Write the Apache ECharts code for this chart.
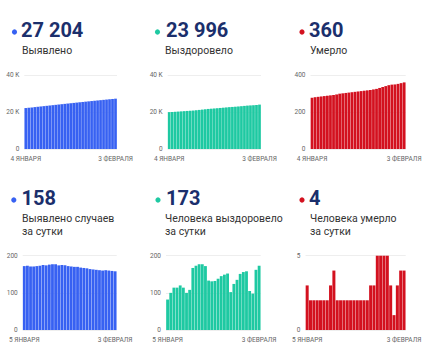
<!DOCTYPE html>
<html>
<head>
<meta charset="utf-8">
<script src="https://cdn.jsdelivr.net/npm/echarts@6/dist/echarts.min.js"></script>
<style>
html,body{margin:0;padding:0;background:#fff;}
#c{width:430px;height:355px;}
</style>
</head>
<body>
<div id="c"></div>
<script>
// ---- categories ----
const datesTotal = ['4 ЯНВАРЯ','5 ЯНВАРЯ','6 ЯНВАРЯ','7 ЯНВАРЯ','8 ЯНВАРЯ','9 ЯНВАРЯ','10 ЯНВАРЯ','11 ЯНВАРЯ','12 ЯНВАРЯ','13 ЯНВАРЯ','14 ЯНВАРЯ','15 ЯНВАРЯ','16 ЯНВАРЯ','17 ЯНВАРЯ','18 ЯНВАРЯ','19 ЯНВАРЯ','20 ЯНВАРЯ','21 ЯНВАРЯ','22 ЯНВАРЯ','23 ЯНВАРЯ','24 ЯНВАРЯ','25 ЯНВАРЯ','26 ЯНВАРЯ','27 ЯНВАРЯ','28 ЯНВАРЯ','29 ЯНВАРЯ','30 ЯНВАРЯ','31 ЯНВАРЯ','1 ФЕВРАЛЯ','2 ФЕВРАЛЯ','3 ФЕВРАЛЯ'];
const datesDaily = ['5 ЯНВАРЯ','6 ЯНВАРЯ','7 ЯНВАРЯ','8 ЯНВАРЯ','9 ЯНВАРЯ','10 ЯНВАРЯ','11 ЯНВАРЯ','12 ЯНВАРЯ','13 ЯНВАРЯ','14 ЯНВАРЯ','15 ЯНВАРЯ','16 ЯНВАРЯ','17 ЯНВАРЯ','18 ЯНВАРЯ','19 ЯНВАРЯ','20 ЯНВАРЯ','21 ЯНВАРЯ','22 ЯНВАРЯ','23 ЯНВАРЯ','24 ЯНВАРЯ','25 ЯНВАРЯ','26 ЯНВАРЯ','27 ЯНВАРЯ','28 ЯНВАРЯ','29 ЯНВАРЯ','30 ЯНВАРЯ','31 ЯНВАРЯ','1 ФЕВРАЛЯ','2 ФЕВРАЛЯ','3 ФЕВРАЛЯ'];

// ---- series values ----
const detectedTotal = [22138,22310,22483,22654,22825,22997,23170,23345,23519,23695,23872,24049,24223,24398,24572,24744,24915,25085,25255,25423,25590,25756,25920,26083,26245,26406,26566,26727,26887,27046,27204];
const recoveredTotal = [19934,20016,20116,20230,20344,20464,20578,20678,20786,20953,21126,21303,21480,21652,21785,21916,22048,22186,22331,22480,22632,22734,22858,22993,23144,23300,23458,23563,23661,23823,23996];
const deathsTotal = [277,280,282,284,286,288,290,292,295,299,301,303,305,307,309,311,313,315,317,319,322,325,330,335,340,345,348,349,352,356,360];
const detectedDaily = [172,173,171,171,172,173,175,174,176,177,177,174,175,174,172,171,170,170,168,167,166,164,163,162,161,160,161,160,159,158];
const recoveredDaily = [82,100,114,114,120,114,100,108,167,173,177,177,172,133,131,132,138,145,149,152,102,124,135,151,156,158,105,98,162,173];
const deathsDaily = [3,2,2,2,2,2,2,3,4,2,2,2,2,2,2,2,2,2,2,3,3,5,5,5,5,3,1,3,4,4];

// ---- tick labels ----
const ticksCases = ['0','20 K','40 K'];
const ticksDeathsTotal = ['0','200','400'];
const ticksDaily = ['0','100','200'];
const ticksDeathsDaily = ['0','5'];

// ---- header texts ----
const headerValues = ['27 204','23 996','360','158','173','4'];
const headerLabels = [['Выявлено'],['Выздоровело'],['Умерло'],['Выявлено случаев','за сутки'],['Человека выздоровело','за сутки'],['Человека умерло','за сутки']];

const BLUE = '#3761f2', TEAL = '#1ec9a2', RED = '#d3111f', NAVY = '#1b2f6c';

const panels = [
  {data: detectedTotal, cats: datesTotal, color: BLUE, max: 40000, interval: 20000, ticks: ticksCases, grid: {left: 24.3, top: 75, width: 92.7, height: 74}},
  {data: recoveredTotal, cats: datesTotal, color: TEAL, max: 40000, interval: 20000, ticks: ticksCases, grid: {left: 167.7, top: 75, width: 93.3, height: 74}},
  {data: deathsTotal, cats: datesTotal, color: RED, max: 400, interval: 200, ticks: ticksDeathsTotal, grid: {left: 310.5, top: 75, width: 95.2, height: 74}},
  {data: detectedDaily, cats: datesDaily, color: BLUE, max: 200, interval: 100, ticks: ticksDaily, grid: {left: 22.7, top: 255.7, width: 94, height: 74.3}},
  {data: recoveredDaily, cats: datesDaily, color: TEAL, max: 200, interval: 100, ticks: ticksDaily, grid: {left: 166, top: 255.7, width: 94.7, height: 74.3}},
  {data: deathsDaily, cats: datesDaily, color: RED, max: 5, interval: 5, ticks: ticksDeathsDaily, grid: {left: 305.5, top: 255.7, width: 100.2, height: 74.3}}
];

const headerPos = [
  {dot: [14.5, 32], num: [21, 30], lab: [22, 50]},
  {dot: [157.5, 32], num: [166, 30], lab: [165, 50]},
  {dot: [302, 32], num: [309, 30], lab: [310, 50]},
  {dot: [13.8, 200], num: [21.5, 198], lab: [22, 218]},
  {dot: [158, 200], num: [166, 198], lab: [165, 218]},
  {dot: [302, 200], num: [309, 198], lab: [310, 218]}
];

const FONT = 'Roboto';
const grids = [], xAxes = [], yAxes = [], series = [], graphics = [];

panels.forEach((p, i) => {
  grids.push(Object.assign({containLabel: false}, p.grid));
  const n = p.cats.length;
  xAxes.push({
    type: 'category', gridIndex: i, data: p.cats,
    axisLine: {show: false}, axisTick: {show: false},
    axisLabel: {
      interval: (idx) => idx === 0 || idx === n - 1,
      fontSize: 6.5, color: '#666', margin: 6, fontFamily: FONT, hideOverlap: false
    }
  });
  yAxes.push({
    type: 'value', gridIndex: i, min: 0, max: p.max, interval: p.interval,
    axisLine: {show: false}, axisTick: {show: false},
    splitLine: {lineStyle: {color: '#eeeeee', width: 1}},
    axisLabel: {
      fontSize: 6.5, color: '#666', margin: 5, fontFamily: FONT,
      formatter: (v) => p.ticks[Math.round(v / p.interval)]
    }
  });
  series.push({
    type: 'bar', xAxisIndex: i, yAxisIndex: i, data: p.data,
    barCategoryGap: '10%', itemStyle: {color: p.color}, animation: false
  });

  const h = headerPos[i];
  graphics.push({type: 'circle', shape: {cx: h.dot[0], cy: h.dot[1], r: 2.6}, style: {fill: p.color}});
  graphics.push({type: 'text', x: h.num[0], y: h.num[1], style: {
    text: headerValues[i], fill: NAVY, font: 'bold 20px ' + FONT, textVerticalAlign: 'middle', verticalAlign: 'middle'
  }});
  headerLabels[i].forEach((line, k) => {
    graphics.push({type: 'text', x: h.lab[0], y: h.lab[1] + k * 13.5, style: {
      text: line, fill: '#333', font: '10.5px ' + FONT, textVerticalAlign: 'middle', verticalAlign: 'middle'
    }});
  });
});

const chart = echarts.init(document.getElementById('c'), null, {renderer: 'svg'});
chart.setOption({
  animation: false,
  backgroundColor: '#fff',
  grid: grids, xAxis: xAxes, yAxis: yAxes, series: series,
  graphic: graphics
});
</script>
</body>
</html>
